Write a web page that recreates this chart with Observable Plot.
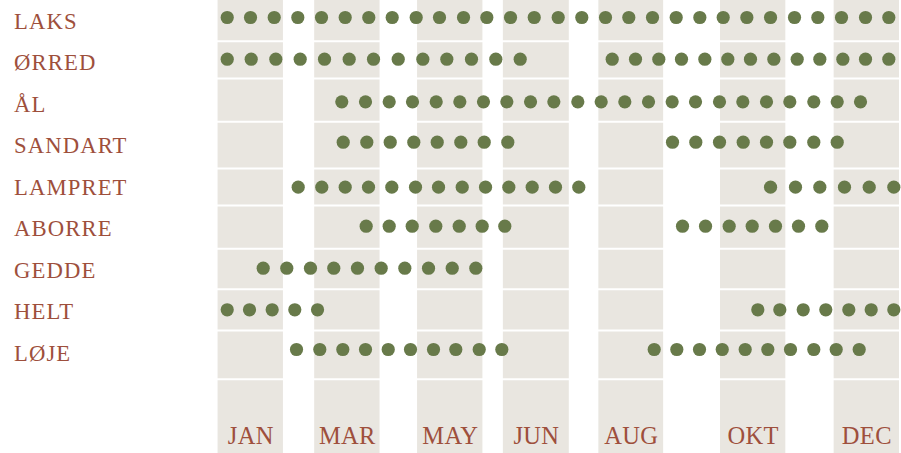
<!DOCTYPE html>
<html>
<head>
<meta charset="utf-8">
<script src="https://cdn.jsdelivr.net/npm/d3@7"></script>
<script src="https://cdn.jsdelivr.net/npm/@observablehq/plot@0.6"></script>
<style>
  html, body { margin: 0; padding: 0; background: #fff; }
  #chart svg g[font-size="22.7"] text { letter-spacing: 1.1px; }
  #chart svg g[font-size="24.5"] text { letter-spacing: 0.3px; }
</style>
</head>
<body>
<div id="chart"></div>
<script>
// Month band labels and their extents (x in month units, 0–12)
const months = ["JAN", "MAR", "MAY", "JUN", "AUG", "OKT", "DEC"];
const bandStart = [0.01, 1.71, 3.52, 5.03, 6.71, 8.85, 10.85];
const bandEnd   = [1.16, 2.86, 4.67, 6.19, 7.85, 10.00, 12.00];

// Row separators (y in row units, row 0 = LAKS)
const rowEdges = [0.571, 1.470, 2.513, 3.638, 4.530, 5.573, 6.547, 7.542, 8.715];

// Fish names, label rows and dot row positions
const fish = ["LAKS", "ØRRED", "ÅL", "SANDART", "LAMPRET", "ABORRE", "GEDDE", "HELT", "LØJE"];
const labelY = [0, 1, 2, 3, 4, 5, 6, 7, 8];
const rowY = [0, 1.005, 2.031, 3.005, 4.089, 5.029, 6.041, 7.043, 8.0];

// Season dots per fish (x in month units)
const laks = [0.171, 0.581, 0.998, 1.413, 1.830, 2.247, 2.662, 3.074, 3.496, 3.906, 4.329, 4.739, 5.156, 5.573, 5.995,
              6.410, 6.827, 7.237, 7.654, 8.071, 8.487, 8.898, 9.314, 9.731, 10.153, 10.563, 10.980, 11.402, 11.812];
const orred = [0.171, 0.593, 1.026, 1.455, 1.883, 2.317, 2.745, 3.180, 3.613, 4.035, 4.469, 4.897, 5.326,
               6.945, 7.355, 7.765, 8.164, 8.575, 8.979, 9.378, 9.789, 10.200, 10.598, 11.003, 11.402, 11.812];
const aal = [2.187, 2.604, 3.021, 3.431, 3.848, 4.264, 4.680, 5.091, 5.508, 5.918, 6.340, 6.751, 7.167, 7.584,
             8.000, 8.411, 8.833, 9.243, 9.660, 10.070, 10.492, 10.904, 11.314];
const sandart = [2.212, 2.627, 3.039, 3.454, 3.866, 4.281, 4.693, 5.108,
                 8.006, 8.416, 8.833, 9.250, 9.660, 10.070, 10.492, 10.904];
const lampret = [1.420, 1.835, 2.247, 2.657, 3.067, 3.484, 3.889, 4.306, 4.716, 5.126, 5.537, 5.947, 6.357,
                 9.731, 10.170, 10.598, 11.032, 11.467, 11.900];
const aborre = [2.616, 3.021, 3.426, 3.841, 4.253, 4.657, 5.055,
                8.182, 8.587, 9.003, 9.408, 9.818, 10.223, 10.633];
const gedde = [0.804, 1.219, 1.636, 2.046, 2.463, 2.880, 3.296, 3.713, 4.130, 4.545];
const helt = [0.171, 0.563, 0.962, 1.360, 1.760,
              9.507, 9.894, 10.306, 10.703, 11.108, 11.502, 11.900];
const loje = [1.390, 1.800, 2.205, 2.604, 3.004, 3.396, 3.801, 4.193, 4.605, 5.003,
              7.684, 8.082, 8.481, 8.881, 9.285, 9.683, 10.082, 10.492, 10.886, 11.291];

const seasons = [laks, orred, aal, sandart, lampret, aborre, gedde, helt, loje];

const dots = fish.flatMap((f, i) => seasons[i].map(x => ({fish: f, x, y: rowY[i]})));
const bands = months.map((m, i) => ({month: m, x1: bandStart[i], x2: bandEnd[i]}));
const labels = fish.map((f, i) => ({fish: f, y: labelY[i]}));

const textColor = "#9e4f3c";
const fontFamily = "'Liberation Serif', 'DejaVu Serif', serif";

const chart = Plot.plot({
  width: 901,
  height: 453,
  marginLeft: 217,
  marginRight: 2,
  marginTop: 0,
  marginBottom: 0,
  style: {background: "white", fontFamily},
  x: {domain: [0, 12], axis: null},
  y: {domain: [-0.41, 10.506], range: [0, 453], axis: null},
  marks: [
    Plot.rect(bands, {x1: "x1", x2: "x2", fill: "#e9e6e0"}),
    Plot.ruleY(rowEdges, {stroke: "white", strokeWidth: 2}),
    Plot.dot(dots, {x: "x", y: "y", r: 6.6, fill: "#687a4a", stroke: null}),
    Plot.text(labels, {
      y: "y", text: "fish", frameAnchor: "left", dx: -203.5, dy: 3.8,
      textAnchor: "start", fill: textColor, fontSize: 22.7, fontFamily
    }),
    Plot.text(bands, {
      x: d => (d.x1 + d.x2) / 2, y: () => 10.096, text: "month",
      fill: textColor, fontSize: 24.5, fontFamily
    })
  ]
});

document.getElementById("chart").appendChild(chart);
</script>
</body>
</html>
